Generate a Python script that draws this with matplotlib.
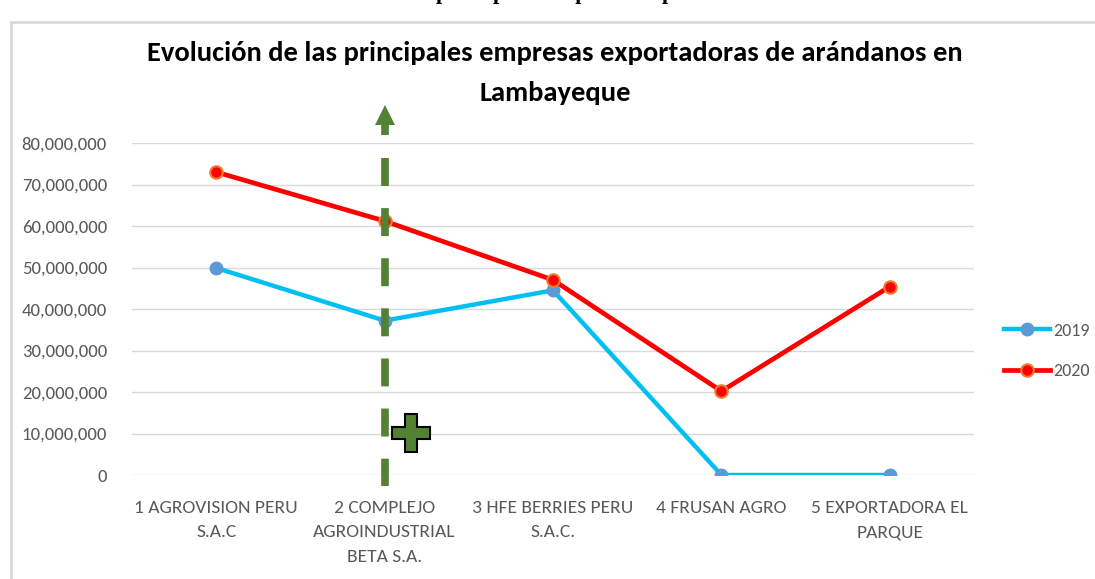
import matplotlib
matplotlib.use('Agg')
import matplotlib.pyplot as plt
from matplotlib.lines import Line2D
from matplotlib.ticker import FuncFormatter

plt.rcParams['font.family'] = ['Carlito', 'Archivo Narrow', 'DejaVu Sans']

# ── data ──────────────────────────────────────────────────
empresas = ["1 AGROVISION PERU\nS.A.C",
            "2 COMPLEJO\nAGROINDUSTRIAL\nBETA S.A.",
            "3 HFE BERRIES PERU\nS.A.C.",
            "4 FRUSAN AGRO",
            "5 EXPORTADORA EL\nPARQUE"]
v2019 = [49_900_000, 37_200_000, 44_500_000, 0, 0]
v2020 = [73_000_000, 61_200_000, 47_000_000, 20_200_000, 45_400_000]
yticks = [0, 10_000_000, 20_000_000, 30_000_000, 40_000_000,
          50_000_000, 60_000_000, 70_000_000, 80_000_000]

C19_LINE, C19_MK = '#00BFF3', '#5B9BD5'
C20_LINE, C20_MK = '#FF0000', '#ED7D31'
GREEN = '#548235'
GRID = '#D9D9D9'
TXT = '#595959'

W, H = 1095, 579
fig = plt.figure(figsize=(W / 100, H / 100), dpi=100)
ax = fig.add_axes([132 / W, 1 - 475 / H, 842 / W, 332 / H])

x = list(range(len(empresas)))
ax.plot(x, v2019, color=C19_LINE, lw=3.2, marker='o', ms=9,
        mfc=C19_MK, mec=C19_MK, zorder=3, solid_capstyle='round')
ax.plot(x, v2020, color=C20_LINE, lw=3.4, marker='o', ms=9,
        mfc=C20_LINE, mec=C20_MK, mew=1.5, zorder=3, solid_capstyle='round')

ax.set_xlim(-0.5, len(empresas) - 0.5)
ax.set_ylim(0, 80_000_000)
ax.set_yticks(yticks)
ax.yaxis.set_major_formatter(FuncFormatter(lambda v, p: f"{int(v):,}"))
ax.set_xticks(x)
ax.set_xticklabels(empresas, linespacing=1.65, fontsize=14)
ax.tick_params(length=0, colors=TXT, labelsize=13.5)
ax.tick_params(axis='y', pad=18)
ax.tick_params(axis='x', pad=18, labelsize=14)
ax.grid(axis='y', color=GRID, lw=1)
ax.set_axisbelow(True)
for s in ax.spines.values():
    s.set_visible(False)

# ── green dashed arrow on category 2 ──────────────────────
px = 80_000_000 / 332          # data units per pixel (vertical)
ybot = -11 * px
ytop = (475 - 158) * px
ax.plot([x[1], x[1]], [ytop, ybot], color=GREEN, lw=5.5,
        dashes=(3.66, 2.9), clip_on=False, zorder=4, solid_capstyle='butt')
ax.plot([x[1], x[1]], [(475 - 135) * px, (475 - 120) * px], color=GREEN, lw=5.5,
        clip_on=False, zorder=4, solid_capstyle='butt')
ax.plot(x[1], (475 - 115) * px, marker='^', ms=15, color=GREEN,
        clip_on=False, zorder=4, markeredgewidth=0)
ax.plot(x[1] + 0.155, 10_100_000, marker='P', ms=27, mfc=GREEN,
        mec='black', mew=1.5, clip_on=False, zorder=5)

# ── title ─────────────────────────────────────────────────
fig.text(0.507, 1 - 53 / H,
         "Evolución de las principales empresas exportadoras de arándanos en",
         ha='center', va='center', fontsize=20.5, fontweight='bold', color='black')
fig.text(0.507, 1 - 93 / H, "Lambayeque",
         ha='center', va='center', fontsize=20.5, fontweight='bold', color='black')

# cut-off text of the document above the chart
fig.text(436 / W, 1 + 1 / H, "principales empresas exportadoras",
         ha='left', va='baseline', fontsize=16, fontweight='bold',
         family='Liberation Serif', color='black')

# chart border
fig.add_artist(Line2D([11 / W, 1], [1 - 22 / H, 1 - 22 / H], color=GRID, lw=2))
fig.add_artist(Line2D([11 / W, 11 / W], [0, 1 - 22 / H], color=GRID, lw=2))

# ── legend ────────────────────────────────────────────────
handles = [Line2D([], [], color=C19_LINE, lw=3.2, marker='o', ms=9,
                  mfc=C19_MK, mec=C19_MK),
           Line2D([], [], color=C20_LINE, lw=3.4, marker='o', ms=9,
                  mfc=C20_LINE, mec=C20_MK, mew=1.5)]
fig.legend(handles, ['2019', '2020'], loc='center left',
           bbox_to_anchor=(999 / W, 1 - 351 / H), frameon=False,
           fontsize=13, labelcolor=TXT, handlelength=2.5,
           handletextpad=0.2, labelspacing=1.35, borderaxespad=0,
           borderpad=0.3)

fig.savefig('out.png', dpi=100)
